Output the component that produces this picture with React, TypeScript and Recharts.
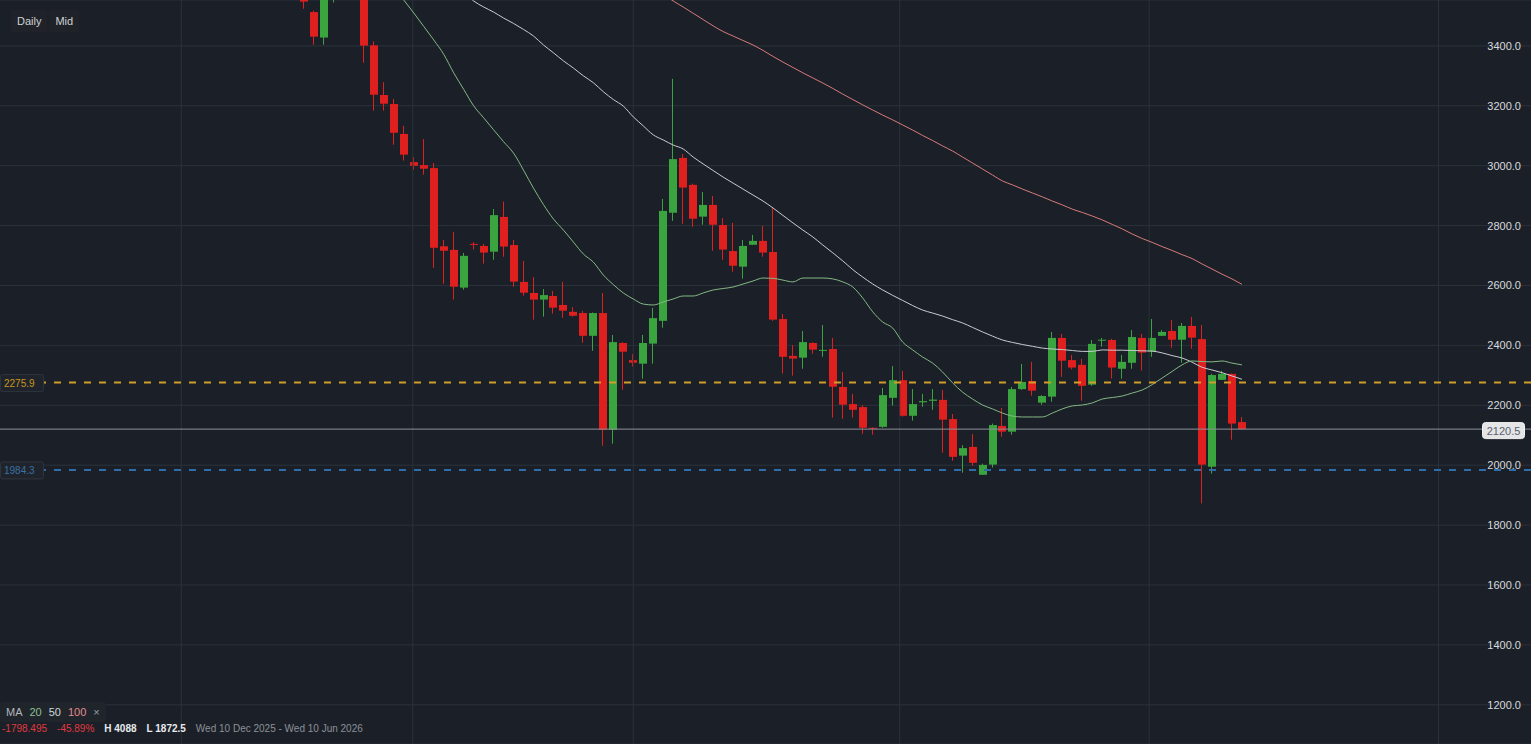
import { ComposedChart, Bar, Line, XAxis, YAxis, CartesianGrid, ReferenceLine } from 'recharts'

const FONT = '"Liberation Sans", Arial, sans-serif'
const BG = '#1b2028'
const GRID = '#2b313a'
const UP = '#3aa53e'
const DOWN = '#e01f1f'

// daily OHLC, candle 0 is the one cut by the top edge
const opens = [
  3600, 3513, 3428, 3580, 3640, 3690, 3600, 3402, 3236, 3206,
  3106, 3012, 3002, 2992, 2731, 2719, 2593, 2739, 2732, 2713,
  2829, 2735, 2612, 2575, 2553, 2565, 2535, 2512, 2508, 2432,
  2508, 2118, 2408, 2351, 2339, 2406, 2482, 2843, 3026, 2936,
  2830, 2869, 2802, 2715, 2663, 2736, 2749, 2712, 2488, 2365,
  2359, 2408, 2383, 2388, 2261, 2204, 2194, 2125, 2128, 2225,
  2284, 2165, 2210, 2215, 2218, 2154, 2032, 2061, 1968, 2002,
  2131, 2112, 2254, 2281, 2209, 2229, 2425, 2351, 2335, 2269,
  2416, 2418, 2322, 2342, 2425, 2379, 2432, 2448, 2419, 2465,
  2421, 1995, 2285, 2305, 2144,
]
const highs = [
  3610, 3518, 3620, 3660, 3720, 3700, 3605, 3415, 3279, 3223,
  3133, 3029, 3089, 3009, 2752, 2779, 2709, 2745, 2739, 2855,
  2880, 2752, 2682, 2628, 2588, 2582, 2612, 2528, 2515, 2510,
  2575, 2435, 2411, 2371, 2435, 2525, 2889, 3290, 3039, 2940,
  2912, 2899, 2825, 2809, 2752, 2769, 2799, 2862, 2505, 2401,
  2448, 2410, 2468, 2425, 2311, 2238, 2200, 2126, 2258, 2331,
  2315, 2254, 2238, 2254, 2251, 2171, 2067, 2104, 2005, 2139,
  2191, 2261, 2338, 2345, 2234, 2445, 2438, 2368, 2355, 2418,
  2425, 2422, 2368, 2451, 2438, 2488, 2451, 2485, 2475, 2495,
  2468, 2305, 2315, 2306, 2161,
]
const lows = [
  3524, 3404, 3404, 3545, 3610, 3570, 3344, 3184, 3184, 3070,
  3017, 2986, 2970, 2659, 2606, 2553, 2586, 2720, 2673, 2686,
  2696, 2596, 2566, 2486, 2496, 2506, 2492, 2496, 2409, 2382,
  2065, 2072, 2252, 2329, 2289, 2339, 2459, 2816, 2806, 2796,
  2803, 2716, 2686, 2646, 2623, 2735, 2696, 2482, 2306, 2299,
  2322, 2372, 2362, 2159, 2155, 2159, 2105, 2102, 2125, 2199,
  2162, 2149, 2195, 2185, 2042, 2015, 1975, 1998, 1968, 1992,
  2095, 2102, 2252, 2232, 2202, 2212, 2295, 2320, 2215, 2265,
  2396, 2289, 2289, 2322, 2316, 2362, 2432, 2392, 2342, 2389,
  1872.5, 1972, 2285, 2085, 2119,
]
const closes = [
  3548, 3431, 3600, 3640, 3690, 3600, 3401, 3237, 3207, 3110,
  3037, 3000, 2990, 2726, 2716, 2596, 2699, 2737, 2710, 2835,
  2730, 2613, 2576, 2553, 2568, 2526, 2516, 2499, 2432, 2508,
  2118, 2411, 2379, 2342, 2408, 2491, 2849, 3022, 2927, 2823,
  2869, 2803, 2720, 2666, 2732, 2749, 2710, 2486, 2362, 2356,
  2411, 2386, 2385, 2262, 2202, 2185, 2125, 2122, 2234, 2284,
  2165, 2204, 2214, 2219, 2152, 2028, 2057, 2008, 2001, 2134,
  2112, 2254, 2278, 2249, 2231, 2425, 2349, 2326, 2265, 2405,
  2419, 2326, 2345, 2428, 2376, 2425, 2445, 2419, 2465, 2426,
  2002, 2301, 2305, 2139, 2120.5,
]

// moving averages, each starting at the candle index given
const ma20Start = 8
const ma20 = [
  3640, 3595, 3553, 3510, 3465, 3420, 3372, 3310, 3255, 3200,
  3160, 3120, 3080, 3042, 2985, 2925, 2870, 2822, 2785, 2745,
  2705, 2678, 2635, 2603, 2575, 2555, 2538, 2535, 2545, 2555,
  2565, 2565, 2575, 2585, 2590, 2595, 2605, 2615, 2625, 2624,
  2618, 2612, 2625, 2625, 2625, 2622, 2612, 2595, 2558, 2512,
  2478, 2458, 2411, 2385, 2361, 2341, 2311, 2275, 2244, 2221,
  2201, 2188, 2174, 2164, 2161, 2161, 2161, 2174, 2188, 2198,
  2201, 2208, 2221, 2226, 2231, 2241, 2251, 2269, 2291, 2313,
  2335, 2348, 2346, 2345, 2348, 2341, 2335,
]
const ma50Start = 15
const ma50 = [
  3610, 3580, 3550, 3530, 3513, 3493, 3475, 3455, 3433, 3403,
  3377, 3350, 3326, 3300, 3277, 3247, 3221, 3199, 3163, 3133,
  3103, 3086, 3069, 3056, 3029, 3006, 2984, 2962, 2942, 2922,
  2902, 2882, 2859, 2834, 2809, 2785, 2762, 2735, 2709, 2682,
  2653, 2628, 2605, 2585, 2567, 2550, 2533, 2518, 2508, 2498,
  2486, 2475, 2460, 2445, 2431, 2418, 2410, 2403, 2397, 2391,
  2388, 2386, 2383, 2380, 2380, 2385, 2384, 2384, 2383, 2382,
  2381, 2375, 2366, 2358, 2344, 2327, 2318, 2309, 2298, 2287,
]
const ma100Start = 36
const ma100 = [
  3573, 3550, 3530, 3509, 3488, 3467, 3448, 3433, 3418, 3403,
  3385, 3365, 3346, 3328, 3310, 3293, 3276, 3258, 3239, 3221,
  3203, 3186, 3169, 3153, 3136, 3119, 3101, 3084, 3066, 3049,
  3029, 3009, 2989, 2969, 2949, 2936, 2922, 2909, 2896, 2882,
  2869, 2855, 2844, 2832, 2819, 2804, 2789, 2772, 2757, 2744,
  2730, 2717, 2703, 2690, 2672, 2655, 2638, 2622, 2604,
]

const priceTicks = [1200, 1400, 1600, 1800, 2000, 2200, 2400, 2600, 2800, 3000, 3200, 3400]
const timeGrid = [-12.3, 10.9, 33, 59.7, 84.7, 113.7]

const lastPrice = 2120.5
const resistance = 2275.9
const support = 1984.3

const rows = opens.map((o, i) => ({
  i,
  o,
  h: highs[i],
  l: lows[i],
  c: closes[i],
  ma20: i >= ma20Start ? ma20[i - ma20Start] : null,
  ma50: i >= ma50Start ? ma50[i - ma50Start] : null,
  ma100: i >= ma100Start ? ma100[i - ma100Start] : null,
}))

function Candle(props: any) {
  const { x, y, width, height, payload } = props
  if (x == null || y == null) return null
  const { o, h, l, c } = payload
  const toY = (v: number) => y + ((h - v) / (h - l)) * height
  const color = c >= o ? UP : DOWN
  const cx = Math.round(x + width / 2) - 0.5
  const top = toY(Math.max(o, c))
  const bottom = toY(Math.min(o, c))
  return (
    <g>
      <line x1={cx} x2={cx} y1={y} y2={y + height} stroke={color} strokeWidth={1} />
      <rect
        x={Math.round(x)}
        y={top}
        width={width}
        height={Math.max(1, bottom - top)}
        fill={color}
      />
    </g>
  )
}

function SideTag(props: any) {
  const { viewBox, text, color } = props
  const y = viewBox.y
  return (
    <g>
      <rect x={viewBox.x + 0.5} y={y - 8} width={43} height={17} rx={2} fill="#1f242c" stroke="#2e343d" />
      <text x={viewBox.x + 4} y={y + 4} fill={color} fontSize={10} fontFamily={FONT}>
        {text}
      </text>
    </g>
  )
}

function PriceTag(props: any) {
  const { viewBox, text } = props
  const right = viewBox.x + viewBox.width - 6.5
  const y = viewBox.y
  return (
    <g>
      <rect x={right - 42} y={y - 6.5} width={42} height={16} rx={3} fill="#e4e5e7" stroke="#f2f3f4" />
      <text x={right - 21} y={y + 5.5} fill="#5b6069" fontSize={11} textAnchor="middle" fontFamily={FONT}>
        {text}
      </text>
    </g>
  )
}

const btn: React.CSSProperties = {
  display: 'inline-block',
  height: 22,
  lineHeight: '22px',
  padding: '0 6px',
  background: '#1f2228',
  borderRadius: 2,
  color: '#cfd2d6',
  fontSize: 11,
}

export default function App() {
  return (
    <div
      style={{
        position: 'absolute',
        left: 0,
        top: 0,
        width: 1531,
        height: 744,
        background: BG,
        fontFamily: FONT,
        overflow: 'hidden',
      }}
    >
      <ComposedChart width={1531} height={744} data={rows} margin={{ top: 0, right: 0, bottom: 0, left: 0 }}>
        <CartesianGrid stroke={GRID} strokeWidth={1} vertical={false} />
        <XAxis
          type="number"
          dataKey="i"
          domain={[-30.47, 122.97]}
          allowDataOverflow
          ticks={timeGrid}
          interval={0}
          tick={false}
          axisLine={false}
          tickLine={false}
          height={0}
        />
        <YAxis
          orientation="right"
          mirror
          domain={[1069.1, 3553.3]}
          allowDataOverflow
          ticks={priceTicks}
          interval={0}
          axisLine={false}
          tickLine={false}
          tickSize={0}
          tickMargin={10}
          tick={{ fill: '#d6d9dd', fontSize: 11, fontFamily: FONT }}
          tickFormatter={(v: number) => v.toFixed(1)}
        />
        {/* vertical grid at the time divisions */}
        {timeGrid.map(t => (
          <ReferenceLine key={t} x={t} stroke={GRID} strokeWidth={1} />
        ))}
        <ReferenceLine
          y={lastPrice}
          stroke="#8d9199"
          strokeWidth={1}
          label={<PriceTag text={lastPrice.toFixed(1)} />}
        />
        <Bar dataKey={(d: any) => [d.l, d.h]} barSize={8} shape={<Candle />} isAnimationActive={false} />
        <Line type="monotone" dataKey="ma100" stroke="#d77a7a" strokeWidth={1} dot={false} isAnimationActive={false} />
        <Line type="monotone" dataKey="ma50" stroke="#c8cbd1" strokeWidth={1} dot={false} isAnimationActive={false} />
        <Line type="monotone" dataKey="ma20" stroke="#84b784" strokeWidth={1} dot={false} isAnimationActive={false} />
        <ReferenceLine
          y={resistance}
          stroke="#d19c28"
          strokeWidth={2}
          strokeDasharray="7 8"
          label={<SideTag text={resistance.toFixed(1)} color="#c8961f" />}
        />
        <ReferenceLine
          y={support}
          stroke="#2f6ca8"
          strokeWidth={2}
          strokeDasharray="7 8"
          label={<SideTag text={support.toFixed(1)} color="#3c6fa3" />}
        />
      </ComposedChart>

      <div style={{ position: 'absolute', left: 11, top: 10, display: 'flex', gap: 2 }}>
        <span style={btn}>Daily</span>
        <span style={btn}>Mid</span>
      </div>

      <div
        style={{
          position: 'absolute',
          left: 0,
          top: 702,
          height: 20,
          lineHeight: '20px',
          padding: '0 6px',
          background: '#20252c',
          borderRadius: 3,
          fontSize: 11,
          display: 'flex',
          gap: 7,
        }}
      >
        <span style={{ color: '#b3b6bb' }}>MA</span>
        <span style={{ color: '#8cc08c' }}>20</span>
        <span style={{ color: '#d1d4d8' }}>50</span>
        <span style={{ color: '#e08c8c' }}>100</span>
        <span style={{ color: '#9a9ea5' }}>×</span>
      </div>

      <div
        style={{
          position: 'absolute',
          left: 2,
          top: 723,
          fontSize: 10,
          lineHeight: '12px',
          display: 'flex',
          gap: 10,
          whiteSpace: 'nowrap',
        }}
      >
        <span style={{ color: '#e0393e' }}>-1798.495</span>
        <span style={{ color: '#e0393e' }}>-45.89%</span>
        <span style={{ color: '#e8eaed', fontWeight: 700 }}>H 4088</span>
        <span style={{ color: '#e8eaed', fontWeight: 700 }}>L 1872.5</span>
        <span style={{ color: '#8b9097' }}>Wed 10 Dec 2025 - Wed 10 Jun 2026</span>
      </div>
    </div>
  )
}
